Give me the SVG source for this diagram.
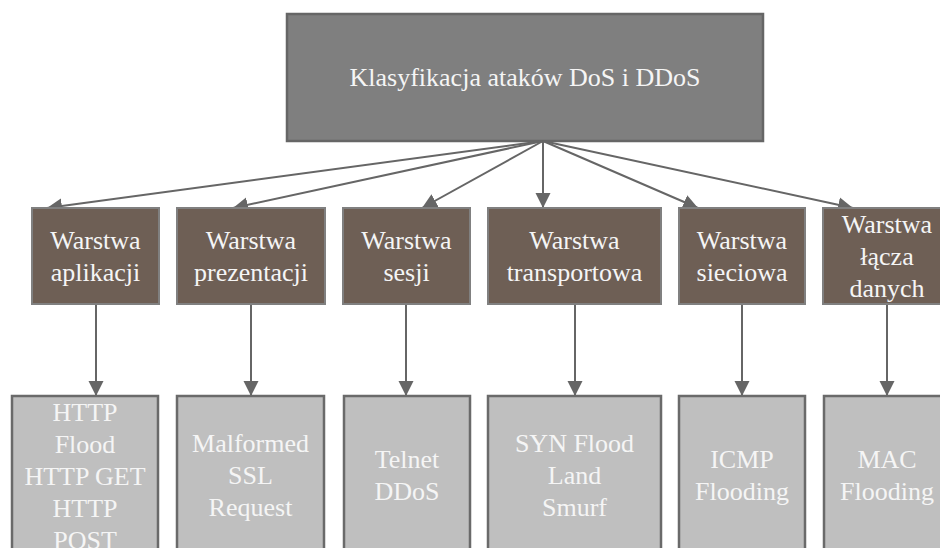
<svg xmlns="http://www.w3.org/2000/svg" width="940" height="548" viewBox="0 0 940 548">
<style>
  .top { fill: #7f7f7f; stroke: #666666; stroke-width: 2.5; }
  .mid { fill: #6e5f55; stroke: #808080; stroke-width: 2; }
  .bot { fill: #bfbfbf; stroke: #6a6a6a; stroke-width: 2.5; }
  .lbl { font-family: "Liberation Serif", "Times New Roman", serif; font-size: 26px; fill: #f5f5f5; text-anchor: middle; }
  .conn { stroke: #666666; stroke-width: 2; fill: none; marker-end: url(#arr); }
</style>
<defs>
  <marker id="arr" markerUnits="userSpaceOnUse" markerWidth="16" markerHeight="16" viewBox="0 0 16 16" refX="15" refY="8" orient="auto">
    <path d="M0,0.5 L15,8 L0,15.5 Z" fill="#666666"/>
  </marker>
</defs>
<rect width="940" height="548" fill="#ffffff"/>

<g id="root">
  <rect class="top" x="287" y="14" width="476" height="127"/>
  <text class="lbl" x="525" y="86">Klasyfikacja ataków DoS i DDoS</text>
</g>

<g id="connectors">
  <line class="conn" x1="543" y1="141" x2="47" y2="208"/>
  <line class="conn" x1="543" y1="141" x2="233" y2="208"/>
  <line class="conn" x1="543" y1="141" x2="422" y2="208"/>
  <line class="conn" x1="543" y1="141" x2="543" y2="208"/>
  <line class="conn" x1="543" y1="141" x2="698" y2="208"/>
  <line class="conn" x1="543" y1="141" x2="853" y2="208"/>
  <line class="conn" x1="96" y1="304" x2="96" y2="396"/>
  <line class="conn" x1="251" y1="304" x2="251" y2="396"/>
  <line class="conn" x1="406" y1="304" x2="406" y2="396"/>
  <line class="conn" x1="575" y1="304" x2="575" y2="396"/>
  <line class="conn" x1="742" y1="304" x2="742" y2="396"/>
  <line class="conn" x1="887" y1="304" x2="887" y2="396"/>
</g>

<g id="m1">
  <rect class="mid" x="32" y="208" width="127" height="96"/>
  <text class="lbl" x="95.5" y="248.5">Warstwa</text>
  <text class="lbl" x="95.5" y="280.5">aplikacji</text>
</g>
<g id="m2">
  <rect class="mid" x="177" y="208" width="148" height="96"/>
  <text class="lbl" x="251" y="248.5">Warstwa</text>
  <text class="lbl" x="251" y="280.5">prezentacji</text>
</g>
<g id="m3">
  <rect class="mid" x="343" y="208" width="127" height="96"/>
  <text class="lbl" x="406.5" y="248.5">Warstwa</text>
  <text class="lbl" x="406.5" y="280.5">sesji</text>
</g>
<g id="m4">
  <rect class="mid" x="488" y="208" width="173" height="96"/>
  <text class="lbl" x="574.5" y="248.5">Warstwa</text>
  <text class="lbl" x="574.5" y="280.5">transportowa</text>
</g>
<g id="m5">
  <rect class="mid" x="679" y="208" width="126" height="96"/>
  <text class="lbl" x="742" y="248.5">Warstwa</text>
  <text class="lbl" x="742" y="280.5">sieciowa</text>
</g>
<g id="m6">
  <rect class="mid" x="823" y="208" width="128" height="96"/>
  <text class="lbl" x="887" y="232.5">Warstwa</text>
  <text class="lbl" x="887" y="264.5">łącza</text>
  <text class="lbl" x="887" y="296.5">danych</text>
</g>

<g id="b1">
  <rect class="bot" x="12" y="396" width="146" height="165"/>
  <text class="lbl" x="85" y="420.5">HTTP</text>
  <text class="lbl" x="85" y="452.5">Flood</text>
  <text class="lbl" x="85" y="484.5">HTTP GET</text>
  <text class="lbl" x="85" y="516.5">HTTP</text>
  <text class="lbl" x="85" y="548.5">POST</text>
</g>
<g id="b2">
  <rect class="bot" x="177" y="396" width="147" height="165"/>
  <text class="lbl" x="250.5" y="452">Malformed</text>
  <text class="lbl" x="250.5" y="484">SSL</text>
  <text class="lbl" x="250.5" y="516">Request</text>
</g>
<g id="b3">
  <rect class="bot" x="344" y="396" width="126" height="165"/>
  <text class="lbl" x="407" y="468">Telnet</text>
  <text class="lbl" x="407" y="500">DDoS</text>
</g>
<g id="b4">
  <rect class="bot" x="488" y="396" width="173" height="165"/>
  <text class="lbl" x="574.5" y="452">SYN Flood</text>
  <text class="lbl" x="574.5" y="484">Land</text>
  <text class="lbl" x="574.5" y="516">Smurf</text>
</g>
<g id="b5">
  <rect class="bot" x="679" y="396" width="126" height="165"/>
  <text class="lbl" x="742" y="468">ICMP</text>
  <text class="lbl" x="742" y="500">Flooding</text>
</g>
<g id="b6">
  <rect class="bot" x="824" y="396" width="127" height="165"/>
  <text class="lbl" x="887" y="468">MAC</text>
  <text class="lbl" x="887" y="500">Flooding</text>
</g>
</svg>
